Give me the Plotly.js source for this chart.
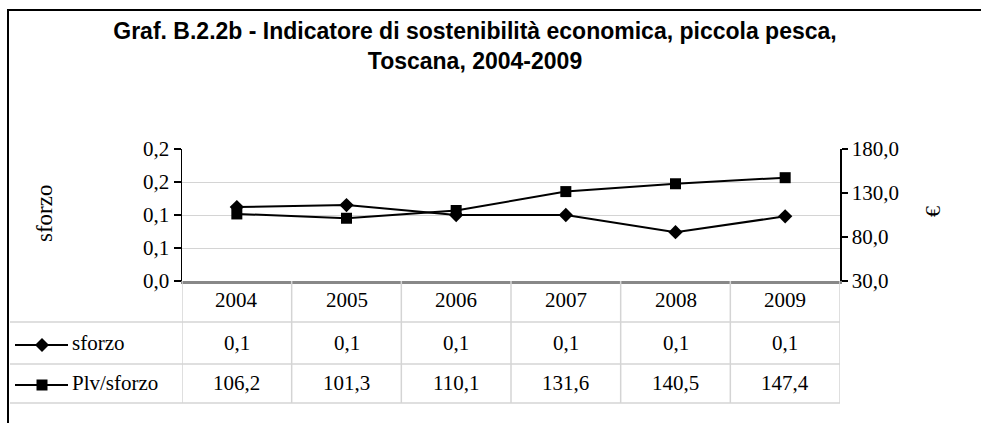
<!DOCTYPE html>
<html>
<head>
<meta charset="utf-8">
<script src="https://cdn.plot.ly/plotly-3.0.1.min.js"></script>
<style>html,body{margin:0;padding:0;background:#fff;}#chart{width:981px;height:423px;}</style>
</head>
<body>
<div id="chart"></div>
<script>
// ---- data ----
const years = ['2004', '2005', '2006', '2007', '2008', '2009'];
const sforzo = [0.112, 0.115, 0.100, 0.100, 0.074, 0.098];
const plvSforzo = [106.2, 101.3, 110.1, 131.6, 140.5, 147.4];
const leftTickVals = [0, 0.05, 0.1, 0.15, 0.2];
const leftTickText = ['0,0', '0,1', '0,1', '0,2', '0,2'];
const rightTickVals = [30, 80, 130, 180];
const seriesNames = ['sforzo', 'Plv/sforzo'];
const titleText = 'Graf. B.2.2b - Indicatore di sostenibilità economica, piccola pesca,<br>Toscana, 2004-2009';

// ---- geometry helpers (pixel -> paper) ----
const W = 981, H = 423;
const L = 182, R = 840, T = 149, B = 281;
const px = x => (x - L) / (R - L);
const py = y => (B - y) / (B - T);
const fmt = v => v.toFixed(1).replace('.', ',');

const serif = 'Liberation Serif, Times New Roman, serif';
const gridGrey = '#d4d4d4';
const FS = 21;

const traces = [
  {x: years, y: sforzo, name: seriesNames[0], type: 'scatter', mode: 'lines+markers',
   line: {color: '#000', width: 2}, marker: {symbol: 'diamond', size: 11, color: '#000'},
   yaxis: 'y', cliponaxis: false},
  {x: years, y: plvSforzo, name: seriesNames[1], type: 'scatter', mode: 'lines+markers',
   line: {color: '#000', width: 2}, marker: {symbol: 'square', size: 11, color: '#000'},
   yaxis: 'y2', cliponaxis: false}
];

const shapes = [];
const annotations = [];

// outer frame
shapes.push({type: 'path', xref: 'paper', yref: 'paper',
  path: `M ${px(8)},${py(440)} L ${px(8)},${py(10)} L ${px(1000)},${py(10)}`,
  line: {color: '#000', width: 2}});

// table vertical lines
for (let i = 0; i <= years.length; i++) {
  shapes.push({type: 'line', xref: 'x', yref: 'paper', x0: i - 0.5, x1: i - 0.5,
    y0: 0, y1: py(403), line: {color: gridGrey, width: 1.5}});
}
// table horizontal lines
[322, 364, 403].forEach(yy => {
  shapes.push({type: 'line', xref: 'paper', yref: 'paper', x0: px(10), x1: 1,
    y0: py(yy), y1: py(yy), line: {color: gridGrey, width: 1.5}});
});

// legend keys in table
const keyRows = [345, 385];
keyRows.forEach((yy, k) => {
  shapes.push({type: 'line', xref: 'paper', yref: 'paper', x0: px(15), x1: px(68),
    y0: py(yy), y1: py(yy), line: {color: '#000', width: 2}});
  const cx = 42, hw = k === 0 ? 7 : 5.5;
  let path;
  if (k === 0) {
    path = `M ${px(cx - hw)},${py(yy)} L ${px(cx)},${py(yy - hw)} L ${px(cx + hw)},${py(yy)} L ${px(cx)},${py(yy + hw)} Z`;
  } else {
    path = `M ${px(cx - hw)},${py(yy - hw)} L ${px(cx + hw)},${py(yy - hw)} L ${px(cx + hw)},${py(yy + hw)} L ${px(cx - hw)},${py(yy + hw)} Z`;
  }
  shapes.push({type: 'path', xref: 'paper', yref: 'paper', path: path,
    fillcolor: '#000', line: {color: '#000', width: 0}});
  annotations.push({xref: 'paper', yref: 'paper', x: px(70), y: py(yy - 2), text: seriesNames[k],
    showarrow: false, xanchor: 'left', yanchor: 'middle', font: {family: serif, size: FS, color: '#000'}});
});

// table header + values
years.forEach((yr, i) => {
  annotations.push({xref: 'x', yref: 'paper', x: i, y: py(300), text: yr, showarrow: false,
    xanchor: 'center', yanchor: 'middle', font: {family: serif, size: FS, color: '#000'}});
  annotations.push({xref: 'x', yref: 'paper', x: i, y: py(343), text: fmt(sforzo[i]), showarrow: false,
    xanchor: 'center', yanchor: 'middle', font: {family: serif, size: FS, color: '#000'}});
  annotations.push({xref: 'x', yref: 'paper', x: i, y: py(383), text: fmt(plvSforzo[i]), showarrow: false,
    xanchor: 'center', yanchor: 'middle', font: {family: serif, size: FS, color: '#000'}});
});

// axis titles
annotations.push({xref: 'paper', yref: 'paper', x: px(44), y: py(214), text: 'sforzo', textangle: -90,
  showarrow: false, xanchor: 'center', yanchor: 'middle', font: {family: serif, size: 23, color: '#000'}});
annotations.push({xref: 'paper', yref: 'paper', x: px(932), y: py(212), text: '€', textangle: -90,
  showarrow: false, xanchor: 'center', yanchor: 'middle', font: {family: serif, size: 22, color: '#000'}});

const layout = {
  width: W, height: H,
  margin: {l: L, r: W - R, t: T, b: H - B, pad: 0},
  paper_bgcolor: '#fff', plot_bgcolor: '#fff',
  showlegend: false,
  separators: ',.',
  title: {text: titleText, x: 475 / W, xanchor: 'center', xref: 'container',
    y: 1 - 39 / H, yanchor: 'top', yref: 'container',
    font: {family: 'Liberation Sans, Arial, sans-serif', size: 23, color: '#000', weight: 'bold'}},
  xaxis: {type: 'category', range: [-0.5, 5.5], showticklabels: false, ticks: '',
    showgrid: false, zeroline: false, showline: true, linecolor: '#888', linewidth: 2.5, fixedrange: true},
  yaxis: {range: [0, 0.2], tickmode: 'array', tickvals: leftTickVals, ticktext: leftTickText,
    showgrid: true, gridcolor: gridGrey, gridwidth: 1, zeroline: false,
    showline: true, linecolor: '#000', linewidth: 1.5, ticks: 'outside', ticklen: 7, tickcolor: '#000', tickwidth: 1.5,
    tickfont: {family: serif, size: FS, color: '#000'}},
  yaxis2: {range: [30, 180], tickmode: 'array', tickvals: rightTickVals, ticktext: rightTickVals.map(fmt),
    overlaying: 'y', side: 'right', showgrid: false, zeroline: false,
    showline: true, linecolor: '#000', linewidth: 1.5, ticks: 'outside', ticklen: 6, tickcolor: '#000', tickwidth: 1.5,
    tickfont: {family: serif, size: FS, color: '#000'}},
  shapes: shapes,
  annotations: annotations
};

Plotly.newPlot('chart', traces, layout, {staticPlot: true, displayModeBar: false});
</script>
</body>
</html>
